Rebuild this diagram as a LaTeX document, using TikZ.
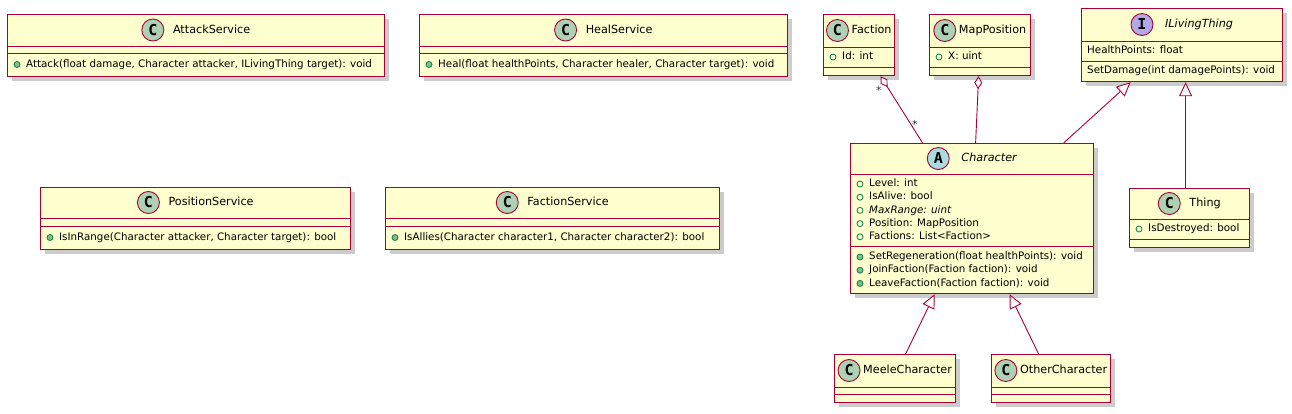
\documentclass[tikz,border=0pt]{standalone}
\usepackage{fontspec}
\setmainfont{DejaVu Sans}
\newfontfamily\iconfont{DejaVu Sans Mono}
\usetikzlibrary{arrows.meta,shadows,calc}
\definecolor{cbg}{HTML}{FEFECE}
\definecolor{cbd}{HTML}{A80036}
\definecolor{icC}{HTML}{ADD1B2}
\definecolor{icA}{HTML}{A9DCDF}
\definecolor{icI}{HTML}{B4A7E5}
\definecolor{visbd}{HTML}{038048}
\definecolor{visfill}{HTML}{84BE84}
\definecolor{lbl}{HTML}{333333}
\tikzset{
 cbox/.style={draw=cbd, fill=cbg, line width=1.2pt, inner sep=0pt,
   drop shadow={shadow xshift=4pt, shadow yshift=-4pt, fill=black, opacity=0.2}},
 sep/.style={draw=cbd, line width=1pt},
 cname/.style={font=\fontsize{11.2}{13}\selectfont, inner sep=0pt, text height=8.5pt, text depth=2.5pt},
 icon/.style={circle, draw=cbd, line width=0.9pt, minimum size=22pt, inner sep=0pt,
   font=\iconfont\bfseries\fontsize{15}{15}\selectfont},
 mem/.style={font=\fontsize{10.3}{12}\selectfont, inner sep=0pt, text height=7.8pt, text depth=2.3pt, anchor=west},
 link/.style={draw=cbd, line width=0.9pt},
 gen/.style={link, -{Triangle[open, fill=white, length=14pt, width=13pt]}},
 agg/.style={link, -{Diamond[open, fill=white, length=13pt, width=8pt]}},
 mult/.style={font=\fontsize{11}{12}\selectfont, text=lbl, inner sep=0pt},
}
\newcommand\ubox[5]{%
  \node[cbox, anchor=north west, minimum width={(#4)-(#2)}, minimum height={(#5)-(#3)}] (#1) at (#2,#3) {};}
\newcommand\usep[2]{\draw[sep] ($(#1.north west)+(0,#2)$) -- ($(#1.north east)+(0,#2)$);}
\newcommand\uhead[6]{%
  \coordinate (#1-hc) at ($(#1.north)+(0,#2)$);
  \node[cname, anchor=center] (#1-name) at ($(#1-hc)+({(22+#6)/2},0)$) {#5};
  \node[icon, fill=#4] (#1-icon) at ($(#1-name.west)+({-(#6)-11},0)$) {#3};}
\newcommand\uattr[4]{%
  \draw[visbd, line width=0.8pt] ($(#1.north west)+(10,#2)$) circle[radius=3pt];
  \node[mem] (#1-#3) at ($(#1.north west)+(19,#2)$) {#4};}
\newcommand\umeth[4]{%
  \filldraw[draw=visbd, fill=visfill, line width=0.8pt] ($(#1.north west)+(10,#2)$) circle[radius=3pt];
  \node[mem] (#1-#3) at ($(#1.north west)+(19,#2)$) {#4};}
\newcommand\uplain[4]{\node[mem] (#1-#3) at ($(#1.north west)+(6,#2)$) {#4};}
\begin{document}
\begin{tikzpicture}[x=1pt, y=-1pt]
\fill[white] (0,0) rectangle (1292,413);
\useasboundingbox (0,0) rectangle (1292,413);

% AttackService
\ubox{attack}{7}{14}{384}{76}
\usep{attack}{32}\usep{attack}{39}
\uhead{attack}{16}{C}{icC}{AttackService}{9}
\umeth{attack}{50.5}{m1}{Attack(float damage, Character attacker, ILivingThing target): void}

% HealService
\ubox{heal}{419}{14}{787}{76}
\usep{heal}{32}\usep{heal}{39}
\uhead{heal}{16}{C}{icC}{HealService}{9}
\umeth{heal}{50.5}{m1}{Heal(float healthPoints, Character healer, Character target): void}

% PositionService
\ubox{position}{40}{187}{350}{249}
\usep{position}{31.5}\usep{position}{39}
\uhead{position}{15.5}{C}{icC}{PositionService}{9}
\umeth{position}{50.5}{m1}{IsInRange(Character attacker, Character target): bool}

% FactionService
\ubox{factionsvc}{385}{187}{719}{249}
\usep{factionsvc}{31.5}\usep{factionsvc}{39}
\uhead{factionsvc}{15.5}{C}{icC}{FactionService}{9}
\umeth{factionsvc}{50.5}{m1}{IsAllies(Character character1, Character character2): bool}

% Faction
\ubox{faction}{823}{14}{894}{75}
\usep{faction}{33}\usep{faction}{53}
\uhead{faction}{16.5}{C}{icC}{Faction}{3}
\uattr{faction}{43}{a1}{Id: int}

% MapPosition
\ubox{mappos}{929}{14}{1030}{75}
\usep{mappos}{33}\usep{mappos}{53}
\uhead{mappos}{16.5}{C}{icC}{MapPosition}{3}
\uattr{mappos}{43}{a1}{X: uint}

% ILivingThing
\ubox{ilt}{1081}{8}{1282}{81}
\usep{ilt}{33}\usep{ilt}{53}
\uhead{ilt}{16.5}{I}{icI}{\itshape ILivingThing}{12}
\uplain{ilt}{43}{a1}{HealthPoints: float}
\uplain{ilt}{63}{m1}{SetDamage(int damagePoints): void}

% Character
\ubox{character}{850}{143}{1093}{293}
\usep{character}{31}\usep{character}{103}
\uhead{character}{15.5}{A}{icA}{\itshape Character}{12}
\uattr{character}{41}{a1}{Level: int}
\uattr{character}{54.2}{a2}{IsAlive: bool}
\uattr{character}{67.4}{a3}{\itshape MaxRange: uint}
\uattr{character}{80.6}{a4}{Position: MapPosition}
\uattr{character}{93.8}{a5}{Factions: List<Faction>}
\umeth{character}{114}{m1}{SetRegeneration(float healthPoints): void}
\umeth{character}{127.2}{m2}{JoinFaction(Faction faction): void}
\umeth{character}{140.4}{m3}{LeaveFaction(Faction faction): void}

% Thing
\ubox{thing}{1129}{188}{1249}{247}
\usep{thing}{31}\usep{thing}{51}
\uhead{thing}{15.5}{C}{icC}{Thing}{9}
\uattr{thing}{41}{a1}{IsDestroyed: bool}

% MeeleCharacter
\ubox{meele}{834}{354}{955}{402}
\usep{meele}{33}\usep{meele}{40}
\uhead{meele}{16.5}{C}{icC}{MeeleCharacter}{3}

% OtherCharacter
\ubox{other}{991}{354}{1110}{402}
\usep{other}{33}\usep{other}{40}
\uhead{other}{16.5}{C}{icC}{OtherCharacter}{3}

% connectors
\draw[agg] ([xshift=-49.5pt]character.north) --
  node[mult, pos=0.28, xshift=4pt] (multB) {*}
  node[mult, pos=0.79, xshift=-10.5pt] (multA) {*}
  ([xshift=21.5pt]faction.south);
\draw[agg] ([xshift=3.5pt]character.north) -- ([xshift=-1.5pt]mappos.south);
\draw[gen] ([xshift=91.5pt]character.north) -- ([xshift=-51.5pt]ilt.south);
\draw[gen] ([xshift=-4pt]thing.north) -- ([xshift=3.5pt]ilt.south);
\draw[gen] ([xshift=10.5pt]meele.north) -- ([xshift=-37.5pt]character.south);
\draw[gen] ([xshift=-12.5pt]other.north) -- ([xshift=37.5pt]character.south);
\end{tikzpicture}
\end{document}
